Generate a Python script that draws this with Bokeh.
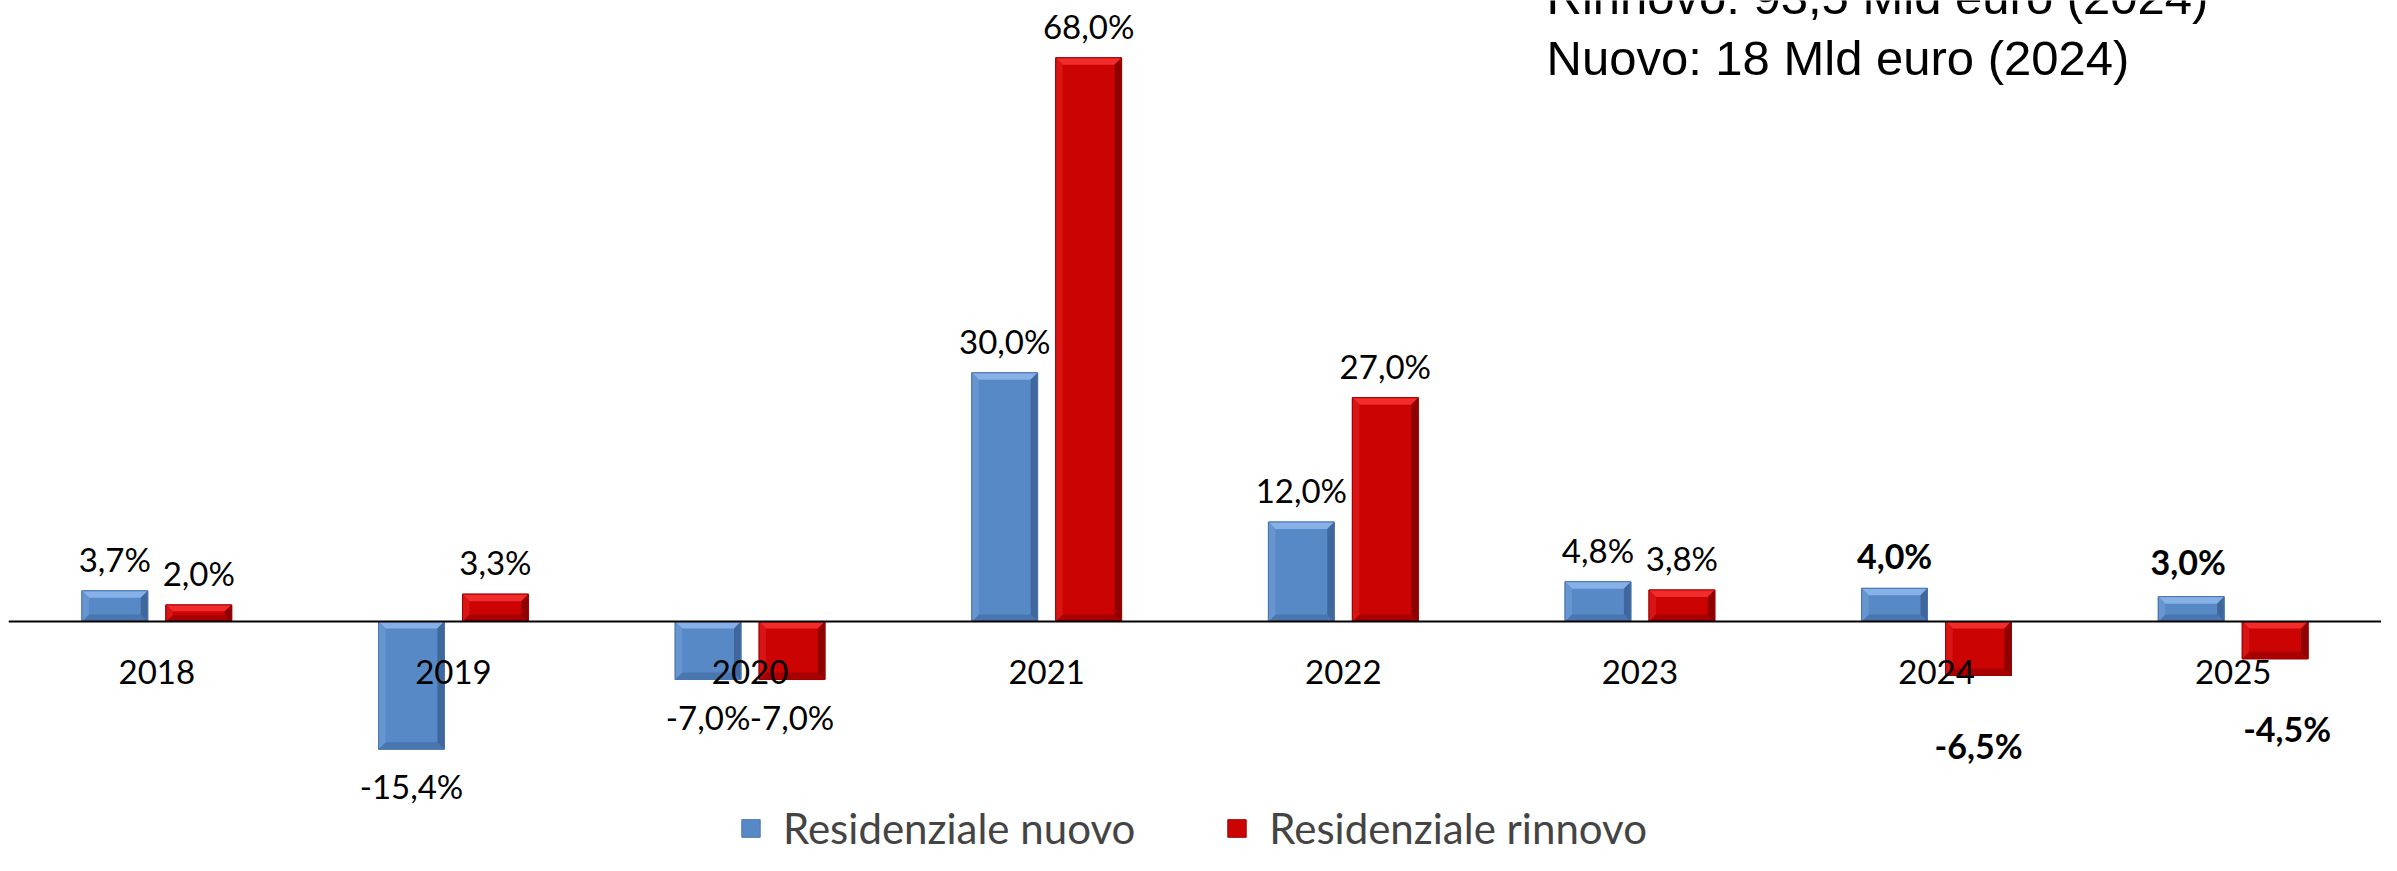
from bokeh.plotting import figure
from bokeh.models import ColumnDataSource, FactorRange, Range1d, Span, Label, Legend, LegendItem
from bokeh.transform import dodge
from bokeh.core.properties import value
from bokeh.embed import file_html
from bokeh.resources import INLINE

# ---------------- data ----------------
years = ["2018", "2019", "2020", "2021", "2022", "2023", "2024", "2025"]
nuovo = [3.7, -15.4, -7.0, 30.0, 12.0, 4.8, 4.0, 3.0]
rinnovo = [2.0, 3.3, -7.0, 68.0, 27.0, 3.8, -6.5, -4.5]
series_names = ["Residenziale nuovo", "Residenziale rinnovo"]
note_lines = ["Rinnovo: 93,5 Mld euro (2024)", "Nuovo: 18 Mld euro (2024)"]
bold_years = ["2024", "2025"]

# ---------------- style ----------------
W, H = 2381, 855
LEFT_PAD, RIGHT_PAD = 8, 0
ZERO_PX = 621          # pixel row of the zero line
KY = 8.29              # px per %
Y1 = ZERO_PX / KY
Y0 = -(H - ZERO_PX) / KY
KX = (W - LEFT_PAD - RIGHT_PAD) / len(years)  # px per category
BAR_W = 0.222
OFF = 0.1415
BEVEL = 7
LABEL_FONT = "Lato"
NOTE_FONT = "'Liberation Sans', Arial, sans-serif"

palettes = [
    dict(base="#5889C7", top="#86B0E6", bottom="#4A76B0", left="#6795D0", right="#3F679C", line="#4A76B0"),
    dict(base="#CC0303", top="#F02C2C", bottom="#A60000", left="#D91414", right="#8E0000", line="#A00000"),
]
label_shift = {(1, "2024"): (0, 70), (1, "2025"): (12, 70), (0, "2025"): (-3, -35), (0, "2024"): (0, -33)}

p = figure(width=W, height=H, x_range=FactorRange(factors=years, range_padding=0),
           y_range=Range1d(Y0, Y1), x_axis_location=None, y_axis_location=None,
           toolbar_location=None, output_backend="svg", min_border=0,
           min_border_left=LEFT_PAD, min_border_right=RIGHT_PAD, outline_line_color=None,
           background_fill_color="white", border_fill_color="white")
p.grid.visible = False

bar_renderers = []
for si, vals in enumerate([nuovo, rinnovo]):
    pal = palettes[si]
    offset = -OFF if si == 0 else OFF
    src = ColumnDataSource(dict(year=years, v=vals))
    r = p.vbar(x=dodge("year", offset, range=p.x_range), top="v", bottom=0, width=BAR_W,
               source=src, fill_color=pal["base"], line_color=pal["line"], line_width=1)
    bar_renderers.append(r)

    # bevel facets, derived from the same values
    bx = BEVEL / KX
    parts = {k: ([], []) for k in ("top", "bottom", "left", "right")}
    for i, v in enumerate(vals):
        cx = i + 0.5 + offset
        L, R = cx - BAR_W / 2, cx + BAR_W / 2
        T, B = max(0.0, v), min(0.0, v)
        by = min(BEVEL / KY, (T - B) / 2.6)
        parts["top"][0].append([L, R, R - bx, L + bx]); parts["top"][1].append([T, T, T - by, T - by])
        parts["bottom"][0].append([L, R, R - bx, L + bx]); parts["bottom"][1].append([B, B, B + by, B + by])
        parts["left"][0].append([L, L + bx, L + bx, L]); parts["left"][1].append([T, T - by, B + by, B])
        parts["right"][0].append([R, R - bx, R - bx, R]); parts["right"][1].append([T, T - by, B + by, B])
    for k, (xs, ys) in parts.items():
        p.patches(xs=xs, ys=ys, fill_color=pal[k], line_color=None)
    p.vbar(x=dodge("year", offset, range=p.x_range), top="v", bottom=0, width=BAR_W,
           source=src, fill_color=None, line_color=pal["line"], line_width=1)

# zero line
p.add_layout(Span(location=0, dimension="width", line_color="#000000", line_width=2))

# category labels
p.text(x=years, y=[0] * len(years), text=years, y_offset=50, text_align="center",
       text_baseline="middle", text_font=value(LABEL_FONT), text_font_size="33px",
       text_color="black")

# data labels
for si, vals in enumerate([nuovo, rinnovo]):
    offset = -OFF if si == 0 else OFF
    for style in ("normal", "bold"):
        d = dict(year=[], v=[], t=[], dx=[], dy=[])
        for y, v in zip(years, vals):
            if (y in bold_years) != (style == "bold"):
                continue
            dx, dy = label_shift.get((si, y), (0, -32 if v >= 0 else 37))
            d["year"].append(y); d["v"].append(v)
            d["t"].append(f"{v:.1f}".replace(".", ",") + "%")
            d["dx"].append(dx); d["dy"].append(dy)
        p.text(x=dodge("year", offset, range=p.x_range), y="v", text="t", x_offset="dx",
               y_offset="dy", source=ColumnDataSource(d), text_align="center",
               text_baseline="middle", text_font=value(LABEL_FONT),
               text_font_size="33px" if style == "normal" else "34px",
               text_font_style=style, text_color="black")

# note (top-right)
for i, line in enumerate(note_lines):
    p.add_layout(Label(x=1538, y=H + 4 - 61 * i, x_units="screen", y_units="screen",
                       text=line, text_font=NOTE_FONT, text_font_size="49px",
                       text_baseline="alphabetic", text_color="black"))

legend = Legend(items=[LegendItem(label=series_names[i], renderers=[bar_renderers[i]]) for i in range(2)],
                orientation="horizontal", location=(731, 2), label_text_font=LABEL_FONT,
                label_text_font_size="42px", glyph_width=23, glyph_height=22,
                label_standoff=21, spacing=90, padding=0, margin=0,
                border_line_color=None, background_fill_alpha=0)
p.add_layout(legend)

open("out.html", "w").write(file_html(p, INLINE))
